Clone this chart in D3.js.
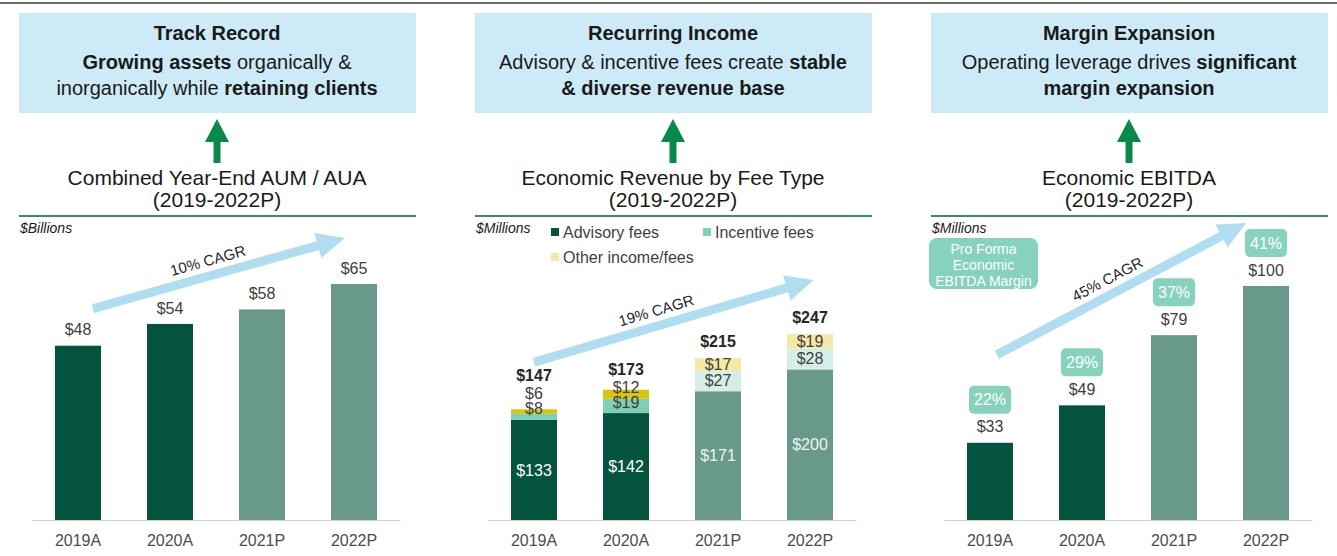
<!DOCTYPE html>
<html lang="en">
<head>
<meta charset="UTF-8">
<title>Track Record / Recurring Income / Margin Expansion</title>
<style>
    body { margin: 0; background: #fff; }
    svg { display: block; font-family: "Liberation Sans", Arial, sans-serif; }
</style>
</head>
<body>
<div id="chart"></div>
<script src="https://d3js.org/d3.v7.min.js"></script>
<script>
    // ---- data ----
    const years = ["2019A", "2020A", "2021P", "2022P"];
    const isProjected = [false, false, true, true];

    const aum = [48, 54, 58, 65];                 // $Billions

    const advisoryFees = [133, 142, 171, 200];   // $Millions
    const incentiveFees = [8, 19, 27, 28];
    const otherFees = [6, 12, 17, 19];
    const revenueTotal = [147, 173, 215, 247];

    const ebitda = [33, 49, 79, 100];            // $Millions
    const ebitdaMargin = [22, 29, 37, 41];       // %

    const cagrLabels = ["10% CAGR", "19% CAGR", "45% CAGR"];

    // ---- colours ----
    const darkGreen = "#03533e", lightGreen = "#68998b";
    const segColors = {
        advisory: ["#03533e", "#68998b"],
        incentive: ["#7fceb6", "#d6eee8"],
        other: ["#d9c40c", "#f4e9a5"]
    };
    const mint = "#86d2bc";
    const skyBox = "#cdebf6";
    const cagrBlue = "#b0def0";
    const textGray = "#404040";

    const W = 1337, H = 556;
    const svg = d3.select("#chart").append("svg")
        .attr("width", W)
        .attr("height", H);

    // top rule
    svg.append("line")
        .attr("x1", 0).attr("x2", W)
        .attr("y1", 3).attr("y2", 3)
        .attr("stroke", "#6e6e6e").attr("stroke-width", 2);

    const panels = [
        {
            dx: 0,
            title: "Track Record",
            line1: [["Growing assets", true], [" organically &", false]],
            line2: [["inorganically while ", false], ["retaining clients", true]],
            chartTitle: "Combined Year-End AUM / AUA",
            unit: "$Billions"
        },
        {
            dx: 456,
            title: "Recurring Income",
            line1: [["Advisory & incentive fees create ", false], ["stable", true]],
            line2: [["& diverse revenue base", true]],
            chartTitle: "Economic Revenue by Fee Type",
            unit: "$Millions"
        },
        {
            dx: 912,
            title: "Margin Expansion",
            line1: [["Operating leverage drives ", false], ["significant", true]],
            line2: [["margin expansion", true]],
            chartTitle: "Economic EBITDA",
            unit: "$Millions"
        }
    ];

    const baseY = 520;
    const x = d3.scaleBand()
        .domain(years)
        .range([32, 400])
        .paddingInner(0.5)
        .paddingOuter(0.25);

    const groups = panels.map(p => {
        const g = svg.append("g").attr("transform", `translate(${p.dx},0)`);

        // header box
        g.append("rect")
            .attr("x", 19).attr("y", 13)
            .attr("width", 397).attr("height", 100)
            .attr("fill", skyBox);

        g.append("text")
            .attr("x", 217).attr("y", 40)
            .attr("text-anchor", "middle")
            .attr("font-size", 20).attr("font-weight", "bold")
            .attr("fill", "#1a1a1a")
            .text(p.title);

        [p.line1, p.line2].forEach((parts, i) => {
            const t = g.append("text")
                .attr("x", 217).attr("y", 69 + i * 26)
                .attr("text-anchor", "middle")
                .attr("font-size", 20)
                .attr("fill", "#1a1a1a");
            parts.forEach(([s, bold]) => {
                t.append("tspan")
                    .attr("font-weight", bold ? "bold" : "normal")
                    .text(s);
            });
        });

        // green up arrow
        const ax = 217;
        g.append("path")
            .attr("d", `M${ax},119 L${ax + 12},142 L${ax + 3.5},142 L${ax + 3.5},163 L${ax - 3.5},163 L${ax - 3.5},142 L${ax - 12},142 Z`)
            .attr("fill", "#0a8a4a");

        // chart title
        g.append("text")
            .attr("x", 217).attr("y", 185)
            .attr("text-anchor", "middle")
            .attr("font-size", 21).attr("fill", "#1a1a1a")
            .text(p.chartTitle);
        g.append("text")
            .attr("x", 217).attr("y", 207)
            .attr("text-anchor", "middle")
            .attr("font-size", 21).attr("fill", "#1a1a1a")
            .text("(2019-2022P)");

        g.append("line")
            .attr("x1", 19).attr("x2", 416)
            .attr("y1", 216).attr("y2", 216)
            .attr("stroke", "#3d8c60").attr("stroke-width", 2);

        g.append("text")
            .attr("x", 20).attr("y", 233)
            .attr("font-size", 14).attr("font-style", "italic")
            .attr("fill", "#1a1a1a")
            .text(p.unit);

        // x axis
        const axis = g.append("g")
            .attr("transform", `translate(0,${baseY})`)
            .call(d3.axisBottom(x).tickSize(0).tickSizeOuter(0).tickPadding(15));
        axis.select(".domain").attr("stroke", "#d0d0d0");
        axis.selectAll("text")
            .attr("font-size", 16)
            .attr("font-family", "Liberation Sans, Arial, sans-serif")
            .attr("fill", "#4d4d4d");

        return g;
    });

    // CAGR arrow helper: shaft + head along from -> to
    function cagrArrow(g, from, to, label, textOff) {
        const dx = to[0] - from[0], dy = to[1] - from[1];
        const len = Math.hypot(dx, dy);
        const ang = Math.atan2(dy, dx) * 180 / Math.PI;
        const head = 28, hw = 13, sw = 4.5;
        const a = g.append("g")
            .attr("transform", `translate(${from[0]},${from[1]}) rotate(${ang})`);
        a.append("path")
            .attr("d", `M0,${-sw} L${len - head},${-sw} L${len - head},${-hw} L${len},0 L${len - head},${hw} L${len - head},${sw} L0,${sw} Z`)
            .attr("fill", cagrBlue);
        a.append("text")
            .attr("x", textOff).attr("y", -10)
            .attr("text-anchor", "middle")
            .attr("font-size", 15).attr("fill", "#262626")
            .text(label);
    }

    // ---- Panel 1: AUM ----
    {
        const g = groups[0];
        const y = d3.scaleLinear().domain([0, 65]).range([baseY, 284]);

        g.selectAll("rect.bar")
            .data(aum)
            .join("rect")
            .attr("class", "bar")
            .attr("x", (d, i) => x(years[i]))
            .attr("width", x.bandwidth())
            .attr("y", d => y(d))
            .attr("height", d => baseY - y(d))
            .attr("fill", (d, i) => isProjected[i] ? lightGreen : darkGreen);

        g.selectAll("text.val")
            .data(aum)
            .join("text")
            .attr("class", "val")
            .attr("x", (d, i) => x(years[i]) + x.bandwidth() / 2)
            .attr("y", d => y(d) - 16)
            .attr("dy", "0.35em")
            .attr("text-anchor", "middle")
            .attr("font-size", 16).attr("fill", textGray)
            .text(d => "$" + d);

        const bw = x.bandwidth();
        cagrArrow(g,
            [x(years[0]) + bw * 0.82, y(aum[0]) - 37],
            [x(years[3]) + bw * 0.3, y(aum[3]) - 46],
            cagrLabels[0], 124);
    }

    // ---- Panel 2: revenue by fee type ----
    {
        const g = groups[1];
        const y = d3.scaleLinear().domain([0, 247]).range([baseY, 334]);
        const bw = x.bandwidth();

        const rows = years.map((yr, i) => ({
            year: yr, i,
            advisory: advisoryFees[i],
            incentive: incentiveFees[i],
            other: otherFees[i]
        }));
        const keys = ["advisory", "incentive", "other"];
        const stack = d3.stack().keys(keys)(rows);

        g.selectAll("g.layer")
            .data(stack)
            .join("g")
            .attr("class", "layer")
            .selectAll("rect")
            .data(layer => layer.map(s => ({ s, key: layer.key })))
            .join("rect")
            .attr("x", d => x(d.s.data.year))
            .attr("width", bw)
            .attr("y", d => y(d.s[1]))
            .attr("height", d => y(d.s[0]) - y(d.s[1]))
            .attr("fill", d => segColors[d.key][isProjected[d.s.data.i] ? 1 : 0]);

        // labels
        rows.forEach((r, i) => {
            const cx = x(r.year) + bw / 2;
            const advTop = y(r.advisory);
            const incTop = y(r.advisory + r.incentive);
            const top = y(revenueTotal[i]);

            const advY = (baseY + advTop) / 2;
            const incY = Math.min((advTop + incTop) / 2, advTop - 11);
            const othY = Math.min((incTop + top) / 2, incY - 15);
            const totY = Math.min(top - 17, othY - 18);

            g.append("text")
                .attr("x", cx).attr("y", advY).attr("dy", "0.35em")
                .attr("text-anchor", "middle").attr("font-size", 16)
                .attr("fill", isProjected[i] ? "#eef4f2" : "#ffffff")
                .text("$" + r.advisory);
            g.append("text")
                .attr("x", cx).attr("y", incY).attr("dy", "0.35em")
                .attr("text-anchor", "middle").attr("font-size", 16)
                .attr("fill", textGray)
                .text("$" + r.incentive);
            g.append("text")
                .attr("x", cx).attr("y", othY).attr("dy", "0.35em")
                .attr("text-anchor", "middle").attr("font-size", 16)
                .attr("fill", textGray)
                .text("$" + r.other);
            g.append("text")
                .attr("x", cx).attr("y", totY).attr("dy", "0.35em")
                .attr("text-anchor", "middle").attr("font-size", 16)
                .attr("font-weight", "bold").attr("fill", "#262626")
                .text("$" + revenueTotal[i]);
        });

        // legend
        const legendItems = [
            { name: "Advisory fees", color: segColors.advisory[0], lx: 95, ly: 232 },
            { name: "Incentive fees", color: segColors.incentive[0], lx: 247, ly: 232 },
            { name: "Other income/fees", color: segColors.other[1], lx: 95, ly: 257 }
        ];
        legendItems.forEach(it => {
            g.append("rect")
                .attr("x", it.lx).attr("y", it.ly - 4)
                .attr("width", 8).attr("height", 8)
                .attr("fill", it.color);
            g.append("text")
                .attr("x", it.lx + 12).attr("y", it.ly).attr("dy", "0.35em")
                .attr("font-size", 16).attr("fill", textGray)
                .text(it.name);
        });

        cagrArrow(g,
            [x(years[0]) + bw * 0.5, y(revenueTotal[0]) - 47],
            [x(years[3]) + bw * 0.58, y(revenueTotal[3]) - 54],
            cagrLabels[1], 132);
    }

    // ---- Panel 3: EBITDA ----
    {
        const g = groups[2];
        const y = d3.scaleLinear().domain([0, 100]).range([baseY, 286]);
        const bw = x.bandwidth();

        g.selectAll("rect.bar")
            .data(ebitda)
            .join("rect")
            .attr("class", "bar")
            .attr("x", (d, i) => x(years[i]))
            .attr("width", bw)
            .attr("y", d => y(d))
            .attr("height", d => baseY - y(d))
            .attr("fill", (d, i) => isProjected[i] ? lightGreen : darkGreen);

        g.selectAll("text.val")
            .data(ebitda)
            .join("text")
            .attr("class", "val")
            .attr("x", (d, i) => x(years[i]) + bw / 2)
            .attr("y", d => y(d) - 16)
            .attr("dy", "0.35em")
            .attr("text-anchor", "middle")
            .attr("font-size", 16).attr("fill", textGray)
            .text(d => "$" + d);

        const pct = g.selectAll("g.pct")
            .data(ebitdaMargin)
            .join("g")
            .attr("class", "pct")
            .attr("transform", (d, i) => `translate(${x(years[i]) + bw / 2},${y(ebitda[i]) - 43})`);
        pct.append("rect")
            .attr("x", -21).attr("y", -14)
            .attr("width", 42).attr("height", 28)
            .attr("rx", 5)
            .attr("fill", mint);
        pct.append("text")
            .attr("dy", "0.35em")
            .attr("text-anchor", "middle")
            .attr("font-size", 16).attr("fill", "#ffffff")
            .text(d => d + "%");

        // "Pro Forma Economic EBITDA Margin" key box
        g.append("rect")
            .attr("x", 17).attr("y", 238)
            .attr("width", 109).attr("height", 51)
            .attr("rx", 8)
            .attr("fill", mint);
        ["Pro Forma", "Economic", "EBITDA Margin"].forEach((s, i) => {
            g.append("text")
                .attr("x", 71.5).attr("y", 249 + i * 16)
                .attr("dy", "0.35em")
                .attr("text-anchor", "middle")
                .attr("font-size", 14).attr("fill", "#ffffff")
                .text(s);
        });

        cagrArrow(g,
            [x(years[0]) + bw * 0.65, y(ebitda[0]) - 88],
            [x(years[3]) + bw * 0.07, y(ebitda[3]) - 63],
            cagrLabels[2], 133);
    }
</script>
</body>
</html>
